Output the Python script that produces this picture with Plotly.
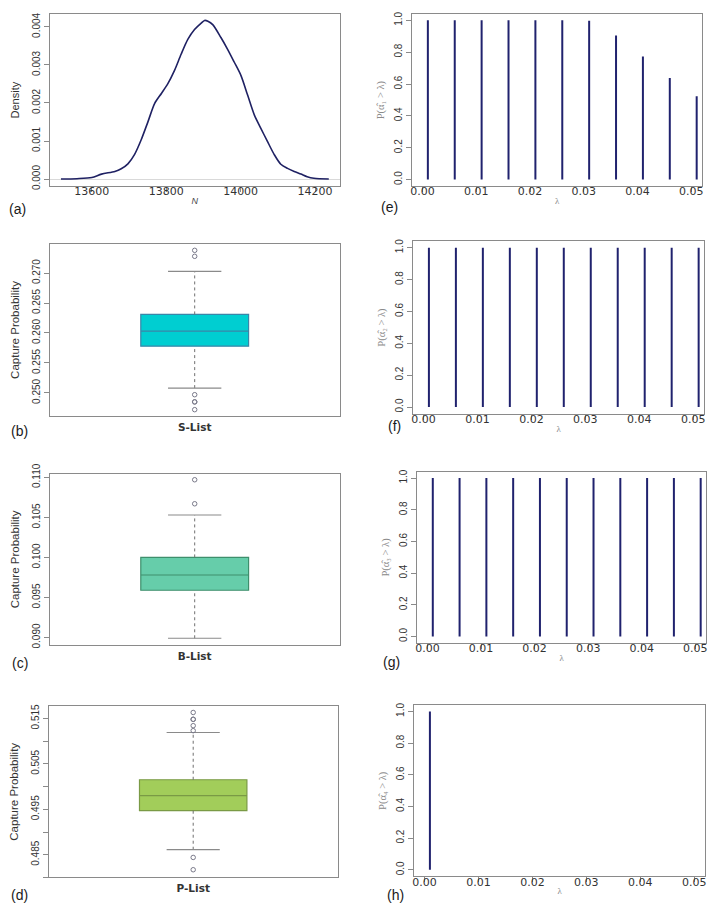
import plotly.graph_objects as go

W, H = 717, 910

# ---------------- data ----------------
# (a) posterior density of N
N_grid = [13517, 13560, 13600, 13626, 13662, 13679, 13697, 13715, 13733, 13751,
          13769, 13787, 13804, 13822, 13840, 13858, 13876, 13894, 13903, 13912,
          13925, 13947, 13965, 13983, 14001, 14019, 14037, 14054, 14072, 14090,
          14108, 14126, 14144, 14162, 14179, 14197, 14237]
density = [0.0, 0.00001, 0.00004, 0.00013, 0.0002, 0.00027, 0.0004, 0.00065, 0.00104, 0.00151,
           0.00199, 0.00225, 0.0025, 0.00285, 0.00328, 0.00367, 0.00393, 0.0041, 0.00417, 0.00415,
           0.00406, 0.00372, 0.00341, 0.00307, 0.00272, 0.0022, 0.00168, 0.00134, 0.00099, 0.00065,
           0.00039, 0.00028, 0.0002, 0.00013, 0.00006, 0.00002, 0.0]
N_ticks = [13600, 13800, 14000, 14200]
dens_ticks = [0.0, 0.001, 0.002, 0.003, 0.004]

# (b)-(d) capture probability box plots
box_names = ["S-List", "B-List", "P-List"]
box_q1 = [0.2578, 0.0959, 0.4947]
box_median = [0.2603, 0.0978, 0.4980]
box_q3 = [0.2631, 0.1000, 0.5015]
box_lower = [0.2508, 0.0899, 0.4861]
box_upper = [0.2703, 0.1053, 0.5119]
outliers_s = [0.2738, 0.2728, 0.2497, 0.2485, 0.2485, 0.2472]
outliers_b = [0.1097, 0.1067]
outliers_p = [0.5163, 0.5148, 0.5148, 0.5134, 0.5123, 0.4844, 0.4817]
ticks_s = [0.250, 0.255, 0.260, 0.265, 0.270]
ticks_b = [0.090, 0.095, 0.100, 0.105, 0.110]
ticks_p = [0.485, 0.495, 0.505, 0.515]

# (e)-(h) P(alpha_hat_i > lambda)
lam = [0.001, 0.006, 0.011, 0.016, 0.021, 0.026, 0.031, 0.036, 0.041, 0.046, 0.051]
p_alpha1 = [1.0, 1.0, 1.0, 1.0, 1.0, 1.0, 0.997, 0.905, 0.773, 0.637, 0.523]
p_alpha2 = [1.0, 1.0, 1.0, 1.0, 1.0, 1.0, 1.0, 1.0, 1.0, 1.0, 1.0]
p_alpha3 = [1.0, 1.0, 1.0, 1.0, 1.0, 1.0, 1.0, 1.0, 1.0, 1.0, 1.0]
p_alpha4 = [1.0, 0.0, 0.0, 0.0, 0.0, 0.0, 0.0, 0.0, 0.0, 0.0, 0.0]
lam_ticks = [0.0, 0.01, 0.02, 0.03, 0.04, 0.05]
p_ticks = [0.0, 0.2, 0.4, 0.6, 0.8, 1.0]
p_titles = ["P(α̂₁ > λ)", "P(α̂₂ > λ)", "P(α̂₃ > λ)", "P(α̂₄ > λ)"]

# ---------------- styling ----------------
FRAME = "#8a8a8a"
NARROW = "Liberation Sans, Arial"
WIDE = "DejaVu Sans, Verdana"
NAVY = "#20226e"
SERIF = "Liberation Serif, Times New Roman, serif"

# panel frames in pixels: (x0, x1, y0, y1)
frames = {
    1: (48, 339, 4, 179),     # a
    2: (48, 339, 238, 412),   # b
    3: (48, 339, 471, 645),   # c
    4: (47, 337, 707, 881),   # d
    5: (412, 703, 4, 179),    # e
    6: (413, 705, 235, 410),  # f
    7: (417, 707, 469, 643),  # g
    8: (414, 706, 706, 880),  # h
}


def dom(i):
    x0, x1, y0, y1 = frames[i]
    return [x0 / W, x1 / W], [1 - y1 / H, 1 - y0 / H]


fig = go.Figure()
layout = dict(width=W, height=H, margin=dict(l=0, r=0, t=0, b=0),
              paper_bgcolor="white", plot_bgcolor="white", showlegend=False)

base_axis = dict(showline=True, linecolor=FRAME, linewidth=1, mirror=True,
                 ticks="outside", ticklen=5, tickcolor=FRAME, showgrid=False,
                 zeroline=False)


def add_axes(i, xr, yr, xkw, ykw):
    xd, yd = dom(i)
    sfx = "" if i == 1 else str(i)
    xa = dict(base_axis, domain=xd, range=xr, anchor="y" + sfx)
    xa.update(xkw)
    ya = dict(base_axis, domain=yd, range=yr, anchor="x" + sfx)
    ya.update(ykw)
    layout["xaxis" + sfx] = xa
    layout["yaxis" + sfx] = ya
    return "x" + sfx, "y" + sfx


ytickfont = dict(family=NARROW, size=10, color="#333")
xtickfont = dict(family=WIDE, size=11, color="#333")

# (a) density
xa, ya = add_axes(1, [13487, 14266], [-0.000189, 0.00434],
                  dict(tickvals=N_ticks, ticktext=[str(v) for v in N_ticks],
                       tickfont=xtickfont, ticklabelstandoff=-10,
                       title=dict(text="N", standoff=0,
                                  font=dict(family=NARROW, size=9, color="#444", style="italic"))),
                  dict(tickvals=dens_ticks, ticktext=["%.3f" % v for v in dens_ticks],
                       tickangle=-90, tickfont=ytickfont,
                       title=dict(text="Density", standoff=8,
                                  font=dict(family=NARROW, size=11, color="#333")),
                       zeroline=True, zerolinecolor="#d9d9d9", zerolinewidth=1))
fig.add_trace(go.Scatter(x=N_grid, y=density, mode="lines", xaxis=xa, yaxis=ya,
                         line=dict(color="#1f2163", width=1.6, shape="spline", smoothing=0.8)))

# (b)-(d) boxes
box_fill = ["#00CED1", "#66CDAA", "#A2CD5A"]
box_line = ["#3A86A8", "#3E8F6C", "#7A9A45"]
box_ranges = [[0.2462, 0.2748], [0.08905, 0.11045], [0.4800, 0.5177]]
box_ticks = [ticks_s, ticks_b, ticks_p]
outs = [outliers_s, outliers_b, outliers_p]
for k in range(3):
    i = k + 2
    ykw = dict(tickvals=box_ticks[k], ticktext=["%.3f" % v for v in box_ticks[k]],
               tickangle=-90, tickfont=ytickfont,
               title=dict(text="Capture Probability", standoff=8,
                          font=dict(family=NARROW, size=11.5, color="#333")))
    if k == 2:
        ykw["minor"] = dict(tick0=0.485, dtick=0.005, ticks="outside", ticklen=5,
                            tickcolor=FRAME, showgrid=False)
    xa, ya = add_axes(i, [0.5, 1.5], box_ranges[k],
                      dict(showticklabels=False, ticks="",
                           title=dict(text=box_names[k], standoff=7,
                                      font=dict(family=WIDE, size=10.5, color="#333",
                                                weight="bold"))),
                      ykw)
    # whiskers (dashed) and caps
    fig.add_trace(go.Scatter(x=[1, 1, None, 1, 1],
                             y=[box_lower[k], box_q1[k], None, box_q3[k], box_upper[k]],
                             mode="lines", xaxis=xa, yaxis=ya,
                             line=dict(color="#6f6f6f", width=1, dash="dot")))
    fig.add_trace(go.Scatter(x=[0.908, 1.092, None, 0.908, 1.092],
                             y=[box_lower[k], box_lower[k], None, box_upper[k], box_upper[k]],
                             mode="lines", xaxis=xa, yaxis=ya,
                             line=dict(color="#8a8a8a", width=1.2)))
    fig.add_trace(go.Box(x=[1], q1=[box_q1[k]], median=[box_median[k]], q3=[box_q3[k]],
                         lowerfence=[box_q1[k]], upperfence=[box_q3[k]],
                         width=0.372, whiskerwidth=0, boxpoints=False,
                         fillcolor=box_fill[k], line=dict(color=box_line[k], width=1.2),
                         xaxis=xa, yaxis=ya))
    fig.add_trace(go.Scatter(x=[1] * len(outs[k]), y=outs[k], mode="markers",
                             xaxis=xa, yaxis=ya,
                             marker=dict(symbol="circle-open", size=4.5,
                                         color="#7a7a8a", line=dict(width=1))))

# (e)-(h) vertical-line (type "h") plots
probs = [p_alpha1, p_alpha2, p_alpha3, p_alpha4]
for k in range(4):
    i = k + 5
    xa, ya = add_axes(i, [-0.0019, 0.0520], [-0.042, 1.04],
                      dict(tickvals=lam_ticks, ticktext=["%.2f" % v for v in lam_ticks],
                           tickfont=xtickfont, ticklabelstandoff=-10,
                           title=dict(text="λ", standoff=0,
                                      font=dict(family=SERIF, size=9, color="#8a8a8a"))),
                      dict(tickvals=p_ticks, ticktext=["%.1f" % v for v in p_ticks],
                           tickangle=-90, tickfont=ytickfont,
                           title=dict(text=p_titles[k], standoff=6,
                                      font=dict(family=SERIF, size=10.5, color="#8a8a8a"))))
    xs, ys = [], []
    for l, p in zip(lam, probs[k]):
        if p > 0:
            xs += [l, l, None]
            ys += [0.0, p, None]
    fig.add_trace(go.Scatter(x=xs, y=ys, mode="lines", xaxis=xa, yaxis=ya,
                             line=dict(color=NAVY, width=2)))

# ---------------- panel letters ----------------
ann = []
for s, x, y in [("(a)", 16, 202), ("(b)", 18, 428), ("(c)", 18, 663), ("(d)", 18, 899),
                ("(e)", 389, 200), ("(f)", 394, 422), ("(g)", 391, 662), ("(h)", 395, 899)]:
    ann.append(dict(x=x / W, y=1 - y / H, xref="paper", yref="paper", text=s,
                    showarrow=False, xanchor="center", yanchor="middle",
                    font=dict(size=14, color="#1a1a1a", family="Liberation Sans, Arial")))

layout["annotations"] = ann
fig.update_layout(**layout)
fig.write_html("out.html")
